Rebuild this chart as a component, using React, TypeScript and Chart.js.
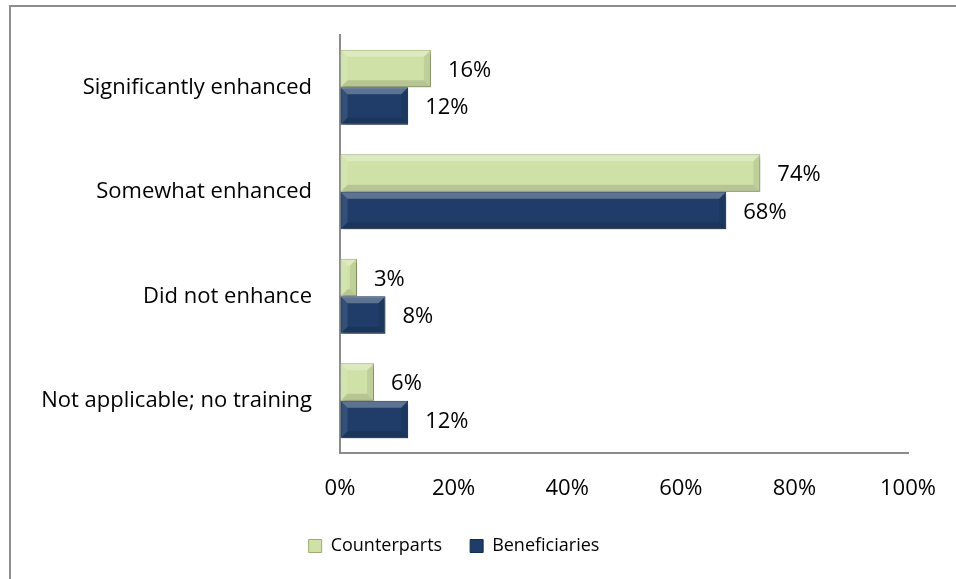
import React, { useEffect, useRef } from 'react';
import { Chart, registerables } from 'chart.js';

Chart.register(...registerables);

const categories = [
  'Significantly enhanced',
  'Somewhat enhanced',
  'Did not enhance',
  'Not applicable; no training',
];
const seriesNames = ['Counterparts', 'Beneficiaries'];
const counterparts = [16, 74, 3, 6];
const beneficiaries = [12, 68, 8, 12];
const xMin = 0;
const xMax = 100;
const xStep = 20;

const FONT = "'Open Sans', 'DejaVu Sans', sans-serif";
const FSIZE = 22;
const LEGEND_FSIZE = 18;

const shadowPlugin = {
  id: 'barShadow',
  beforeDatasetsDraw(chart: any) {
    const ctx = chart.ctx;
    ctx.save();
    ctx.shadowColor = 'rgba(0,0,0,0.3)';
    ctx.shadowBlur = 4;
    ctx.shadowOffsetX = 2;
    ctx.shadowOffsetY = 3;
  },
  afterDatasetsDraw(chart: any) {
    chart.ctx.restore();
  },
};

const bevelPlugin = {
  id: 'bevel',
  afterDatasetsDraw(chart: any) {
    const ctx = chart.ctx;
    const poly = (pts: number[][], color: string) => {
      ctx.beginPath();
      ctx.moveTo(pts[0][0], pts[0][1]);
      for (let k = 1; k < pts.length; k++) ctx.lineTo(pts[k][0], pts[k][1]);
      ctx.closePath();
      ctx.fillStyle = color;
      ctx.fill();
    };
    chart.data.datasets.forEach((_ds: any, di: number) => {
      const meta = chart.getDatasetMeta(di);
      meta.data.forEach((el: any) => {
        const { x, y, base, height } = el.getProps(['x', 'y', 'base', 'height'], true);
        const l = Math.min(base, x) + 1;
        const r = Math.max(base, x) - 1;
        const t = y - height / 2 + 1;
        const b = y + height / 2 - 1;
        const w = r - l;
        const bv = Math.max(0, Math.min(6, w / 2, (b - t) / 2));
        ctx.save();
        poly([[l, t], [r, t], [r - bv, t + bv], [l + bv, t + bv]], 'rgba(255,255,255,0.28)');
        poly([[l, t], [l + bv, t + bv], [l + bv, b - bv], [l, b]], 'rgba(255,255,255,0.1)');
        poly([[l, b], [l + bv, b - bv], [r - bv, b - bv], [r, b]], 'rgba(0,0,0,0.12)');
        poly([[r, t], [r - bv, t + bv], [r - bv, b - bv], [r, b]], 'rgba(0,0,0,0.08)');
        ctx.restore();
      });
    });
  },
};

const labelPlugin = {
  id: 'valueLabels',
  afterDatasetsDraw(chart: any) {
    const ctx = chart.ctx;
    ctx.save();
    ctx.font = `${FSIZE}px ${FONT}`;
    ctx.fillStyle = '#000';
    ctx.textAlign = 'left';
    ctx.textBaseline = 'middle';
    chart.data.datasets.forEach((ds: any, di: number) => {
      const meta = chart.getDatasetMeta(di);
      meta.data.forEach((el: any, i: number) => {
        const { x, y } = el.getProps(['x', 'y'], true);
        ctx.fillText(`${ds.data[i]}%`, x + 17, y + 2);
      });
    });
    ctx.restore();
  },
};

export default function App() {
  const ref = useRef<HTMLCanvasElement | null>(null);

  useEffect(() => {
    if (!ref.current) return;
    const chart = new Chart(ref.current, {
      type: 'bar',
      data: {
        labels: categories,
        datasets: [
          {
            label: seriesNames[0],
            data: counterparts,
            backgroundColor: '#d0e1a7',
            borderColor: '#9aad6e',
            borderWidth: 1,
            categoryPercentage: 0.72,
            barPercentage: 1,
          },
          {
            label: seriesNames[1],
            data: beneficiaries,
            backgroundColor: '#1f3d68',
            borderColor: '#132c50',
            borderWidth: 1,
            categoryPercentage: 0.72,
            barPercentage: 1,
          },
        ],
      },
      options: {
        indexAxis: 'y',
        responsive: false,
        animation: false,
        devicePixelRatio: 1,
        layout: { padding: { top: 35, left: 0, right: 48, bottom: 14 } },
        scales: {
          x: {
            min: xMin,
            max: xMax,
            ticks: {
              stepSize: xStep,
              callback: (v: any) => `${v}%`,
              font: { family: FONT, size: FSIZE },
              color: '#000',
              padding: 23,
              maxRotation: 0,
            },
            grid: { display: true, drawOnChartArea: false, drawTicks: false },
            border: { display: true, color: '#8c8c8c', width: 2 },
            afterFit: (s: any) => {
              s.height = 56;
              s.paddingLeft = 0;
              s.paddingRight = 0;
            },
          },
          y: {
            ticks: {
              font: { family: FONT, size: FSIZE },
              color: '#000',
              padding: 28,
            },
            grid: { display: true, drawOnChartArea: false, drawTicks: false },
            border: { display: true, color: '#8c8c8c', width: 2 },
            afterFit: (s: any) => {
              s.width = 340;
              s.paddingTop = 0;
              s.paddingBottom = 0;
            },
          },
        },
        plugins: {
          legend: {
            position: 'bottom',
            labels: {
              font: { family: FONT, size: LEGEND_FSIZE },
              color: '#000',
              boxWidth: 13,
              boxHeight: 13,
              padding: 28,
            },
          },
          tooltip: { enabled: false },
        },
      },
      plugins: [shadowPlugin, bevelPlugin, labelPlugin],
    } as any);
    return () => chart.destroy();
  }, []);

  return (
    <div
      style={{
        position: 'absolute',
        left: 0,
        top: 0,
        width: 956,
        height: 579,
        overflow: 'hidden',
        background: '#fff',
      }}
    >
      <canvas ref={ref} width={956} height={579} style={{ display: 'block' }} />
      <div
        style={{
          position: 'absolute',
          left: 9,
          top: 5,
          width: 1000,
          height: 1000,
          border: '2px solid #8e8e8e',
          pointerEvents: 'none',
        }}
      />
    </div>
  );
}
